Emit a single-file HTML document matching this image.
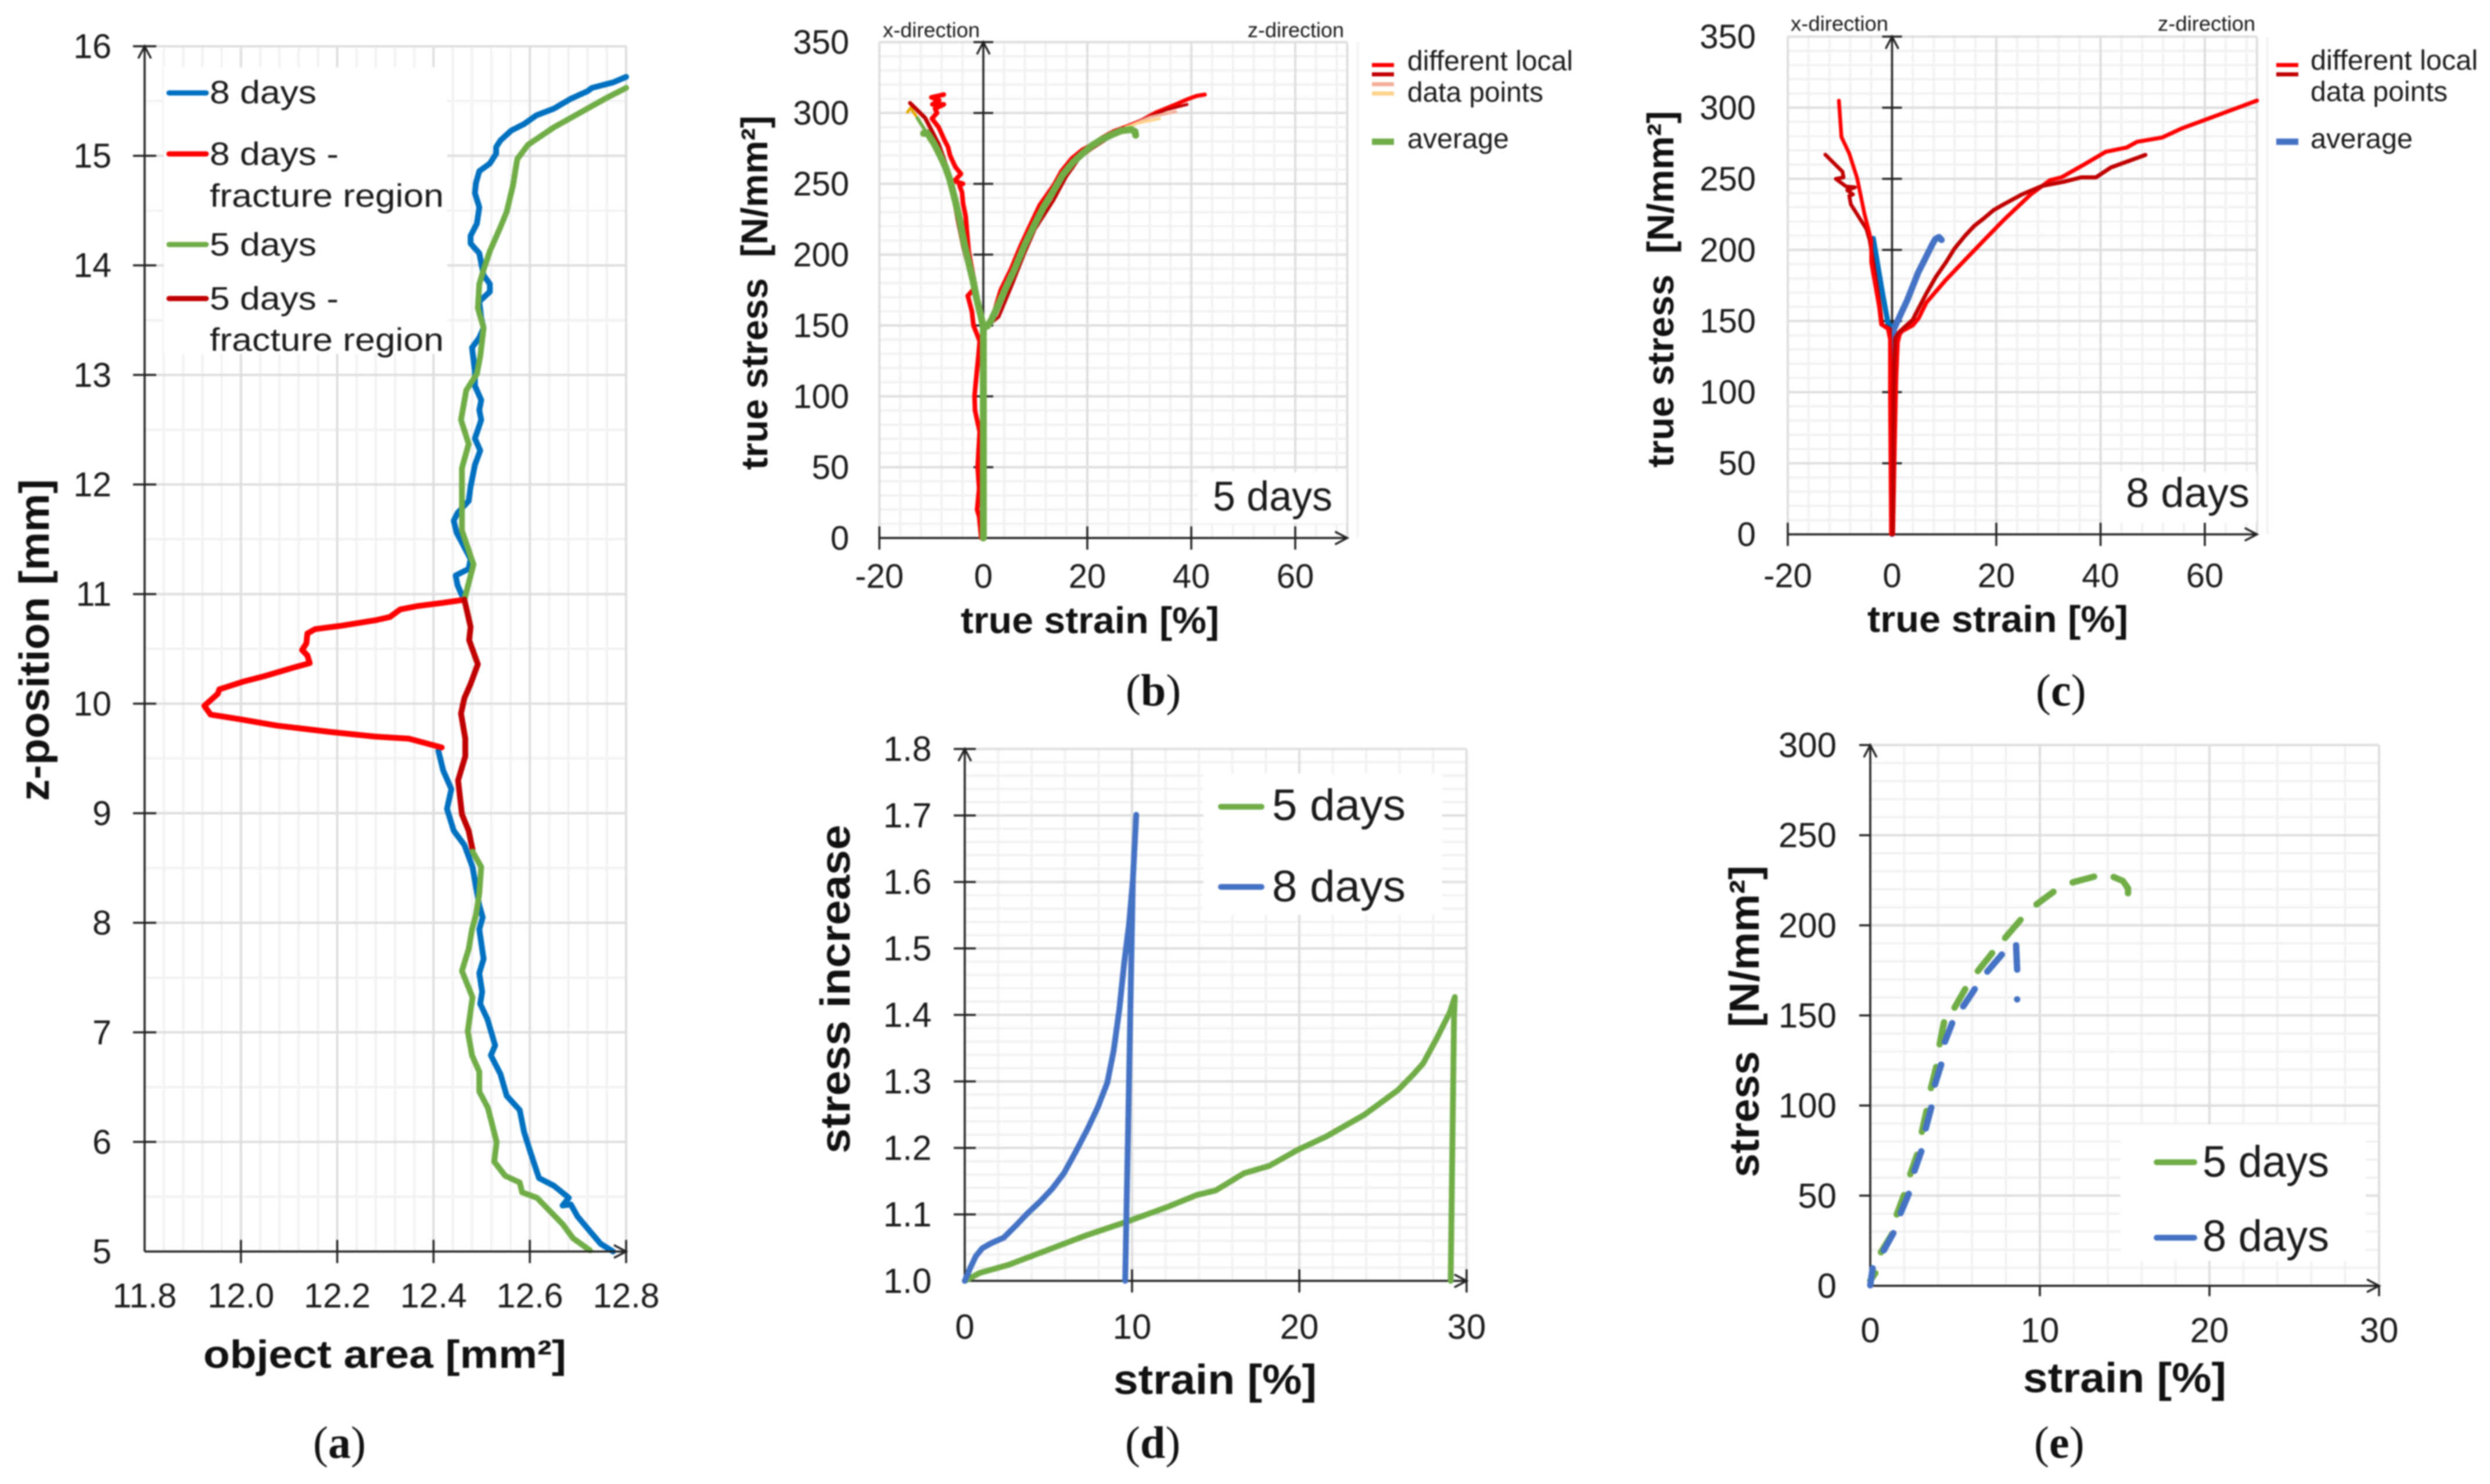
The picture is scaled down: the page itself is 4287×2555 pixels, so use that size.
<!DOCTYPE html>
<html lang="en">
<head>
<meta charset="utf-8">
<title>Stress and strain charts</title>
<style>
html,body{margin:0;padding:0;background:#fff;width:4287px;height:2555px;overflow:hidden}
#figure{position:absolute;left:0;top:0;filter:blur(1.4px)}
text{font-family:"Liberation Sans",sans-serif;fill:#1a1a1a}
.title{font-weight:700;fill:#111}
.cap{font-family:"Liberation Serif",serif;font-size:78px;fill:#111}
.cap .l{font-weight:700}
</style>
</head>
<body>
<svg id="figure" xmlns="http://www.w3.org/2000/svg" width="4287" height="2555" viewBox="0 0 4287 2555">
  <rect x="0" y="0" width="4287" height="2555" fill="#fff"/>
  <g id="panel-a"></g>
  <g id="panel-b"></g>
  <g id="panel-c"></g>
  <g id="panel-d"></g>
  <g id="panel-e"></g>

  <g id="labels">
    <!-- panel a -->
    <rect x="282" y="116" width="488" height="493" fill="#fff"/>
    <line x1="291" y1="160" x2="355" y2="160" stroke="#0070c0" stroke-width="9" stroke-linecap="round"/>
    <line x1="291" y1="265" x2="355" y2="265" stroke="#ff0000" stroke-width="9" stroke-linecap="round"/>
    <line x1="291" y1="421" x2="355" y2="421" stroke="#70ad47" stroke-width="9" stroke-linecap="round"/>
    <line x1="291" y1="514" x2="355" y2="514" stroke="#c00000" stroke-width="9" stroke-linecap="round"/>
    <text x="361" y="178" font-size="56" textLength="184" lengthAdjust="spacingAndGlyphs">8 days</text>
    <text x="361" y="284" font-size="56" textLength="222" lengthAdjust="spacingAndGlyphs">8 days -</text>
    <text x="361" y="356" font-size="56" textLength="403" lengthAdjust="spacingAndGlyphs">fracture region</text>
    <text x="361" y="440" font-size="56" textLength="184" lengthAdjust="spacingAndGlyphs">5 days</text>
    <text x="361" y="533" font-size="56" textLength="222" lengthAdjust="spacingAndGlyphs">5 days -</text>
    <text x="361" y="604" font-size="56" textLength="403" lengthAdjust="spacingAndGlyphs">fracture region</text>
    <text class="title" transform="translate(84,1379) rotate(-90)" font-size="72" textLength="554" lengthAdjust="spacingAndGlyphs">z-position [mm]</text>
    <text class="title" x="350" y="2355" font-size="68" textLength="625" lengthAdjust="spacingAndGlyphs">object area [mm²]</text>
    <text class="cap" x="539" y="2510">(<tspan class="l">a</tspan>)</text>

    <!-- panel b -->
    <text x="1520" y="64" font-size="36" textLength="167" lengthAdjust="spacingAndGlyphs">x-direction</text>
    <text x="2148" y="64" font-size="36" textLength="166" lengthAdjust="spacingAndGlyphs">z-direction</text>
    <line x1="2362" y1="112" x2="2400" y2="112" stroke="#ff0000" stroke-width="7"/>
    <line x1="2362" y1="128" x2="2400" y2="128" stroke="#c00000" stroke-width="7"/>
    <line x1="2362" y1="145" x2="2400" y2="145" stroke="#f4b09a" stroke-width="7"/>
    <line x1="2362" y1="161" x2="2400" y2="161" stroke="#ffd28a" stroke-width="7"/>
    <line x1="2362" y1="244" x2="2400" y2="244" stroke="#70ad47" stroke-width="11"/>
    <text x="2423" y="121" font-size="48" textLength="285" lengthAdjust="spacingAndGlyphs">different local</text>
    <text x="2423" y="175" font-size="48" textLength="234" lengthAdjust="spacingAndGlyphs">data points</text>
    <text x="2423" y="255" font-size="48" textLength="175" lengthAdjust="spacingAndGlyphs">average</text>
    <rect x="2062" y="813" width="256" height="88" fill="#fff"/>
    <text x="2088" y="879" font-size="71" textLength="206" lengthAdjust="spacingAndGlyphs">5 days</text>
    <text class="title" transform="translate(1321,809) rotate(-90)" font-size="64" textLength="610" lengthAdjust="spacingAndGlyphs" xml:space="preserve" style="white-space:pre">true stress  [N/mm²]</text>
    <text class="title" x="1654" y="1090" font-size="64" textLength="445" lengthAdjust="spacingAndGlyphs">true strain [%]</text>
    <text class="cap" x="1938" y="1215">(<tspan class="l">b</tspan>)</text>

    <!-- panel c -->
    <text x="3083" y="53" font-size="36" textLength="168" lengthAdjust="spacingAndGlyphs">x-direction</text>
    <text x="3715" y="53" font-size="36" textLength="168" lengthAdjust="spacingAndGlyphs">z-direction</text>
    <line x1="3919" y1="112" x2="3957" y2="112" stroke="#ff0000" stroke-width="7"/>
    <line x1="3919" y1="128" x2="3957" y2="128" stroke="#c00000" stroke-width="7"/>
    <line x1="3919" y1="244" x2="3957" y2="244" stroke="#4472c4" stroke-width="11"/>
    <text x="3978" y="120" font-size="48" textLength="288" lengthAdjust="spacingAndGlyphs">different local</text>
    <text x="3978" y="174" font-size="48" textLength="236" lengthAdjust="spacingAndGlyphs">data points</text>
    <text x="3978" y="255" font-size="48" textLength="176" lengthAdjust="spacingAndGlyphs">average</text>
    <rect x="3620" y="813" width="265" height="87" fill="#fff"/>
    <text x="3660" y="873" font-size="71" textLength="213" lengthAdjust="spacingAndGlyphs">8 days</text>
    <text class="title" transform="translate(2881,805) rotate(-90)" font-size="64" textLength="614" lengthAdjust="spacingAndGlyphs" xml:space="preserve" style="white-space:pre">true stress  [N/mm²]</text>
    <text class="title" x="3215" y="1088" font-size="64" textLength="449" lengthAdjust="spacingAndGlyphs">true strain [%]</text>
    <text class="cap" x="3505" y="1215">(<tspan class="l">c</tspan>)</text>

    <!-- panel d -->
    <rect x="2072" y="1332" width="411" height="243" fill="#fff"/>
    <line x1="2102" y1="1389" x2="2172" y2="1389" stroke="#70ad47" stroke-width="10" stroke-linecap="round"/>
    <line x1="2102" y1="1527" x2="2172" y2="1527" stroke="#4472c4" stroke-width="10" stroke-linecap="round"/>
    <text x="2190" y="1412" font-size="76" textLength="230" lengthAdjust="spacingAndGlyphs">5 days</text>
    <text x="2190" y="1552" font-size="76" textLength="230" lengthAdjust="spacingAndGlyphs">8 days</text>
    <text class="title" transform="translate(1463,1986) rotate(-90)" font-size="72" textLength="566" lengthAdjust="spacingAndGlyphs">stress increase</text>
    <text class="title" x="1917" y="2400" font-size="72" textLength="350" lengthAdjust="spacingAndGlyphs">strain [%]</text>
    <text class="cap" x="1937" y="2510">(<tspan class="l">d</tspan>)</text>

    <!-- panel e -->
    <rect x="3651" y="1936" width="422" height="235" fill="#fff"/>
    <line x1="3713" y1="2001" x2="3778" y2="2001" stroke="#70ad47" stroke-width="10" stroke-linecap="round"/>
    <line x1="3713" y1="2131" x2="3778" y2="2131" stroke="#4472c4" stroke-width="10" stroke-linecap="round"/>
    <text x="3792" y="2026" font-size="76" textLength="218" lengthAdjust="spacingAndGlyphs">5 days</text>
    <text x="3792" y="2154" font-size="76" textLength="218" lengthAdjust="spacingAndGlyphs">8 days</text>
    <text class="title" transform="translate(3028,2027) rotate(-90)" font-size="72" textLength="537" lengthAdjust="spacingAndGlyphs" xml:space="preserve" style="white-space:pre">stress  [N/mm²]</text>
    <text class="title" x="3483" y="2397" font-size="72" textLength="350" lengthAdjust="spacingAndGlyphs">strain [%]</text>
    <text class="cap" x="3502" y="2510">(<tspan class="l">e</tspan>)</text>
  </g>
</svg>

<script>
/* ---------- panel a data ---------- */
const aXTickLabels = ['11.8','12.0','12.2','12.4','12.6','12.8'];
const aYTickLabels = ['5','6','7','8','9','10','11','12','13','14','15','16'];
const area8DaysUpper = [12.8,12.773,12.729,12.72,12.685,12.65,12.614,12.588,12.561,12.539,12.53,12.53,12.517,12.495,12.488,12.486,12.495,12.49,12.477,12.477,12.495,12.504,12.517,12.517,12.495,12.499,12.504,12.495,12.48,12.486,12.486,12.499,12.495,12.499,12.486,12.497,12.486,12.477,12.473,12.45,12.442,12.448,12.459,12.477,12.473,12.446,12.45,12.459];
const zPos8DaysUpper = [15.72,15.67,15.62,15.59,15.52,15.43,15.37,15.29,15.23,15.14,15.08,15.02,14.93,14.86,14.75,14.66,14.53,14.38,14.27,14.2,14.11,13.91,13.83,13.76,13.67,13.52,13.43,13.34,13.25,13.03,12.9,12.77,12.68,12.59,12.42,12.31,12.18,11.98,11.85,11.74,11.67,11.56,11.47,11.32,11.23,11.17,11.08,10.99];
const area8DaysLower = [12.41,12.42,12.437,12.428,12.442,12.464,12.481,12.488,12.495,12.502,12.495,12.504,12.495,12.501,12.497,12.512,12.528,12.519,12.539,12.552,12.579,12.588,12.601,12.619,12.65,12.681,12.668,12.685,12.699,12.72,12.747,12.773];
const zPos8DaysLower = [9.57,9.39,9.22,9.04,8.84,8.71,8.51,8.33,8.16,8.05,7.94,7.67,7.54,7.37,7.26,7.12,6.88,6.79,6.62,6.42,6.29,6.09,5.91,5.67,5.6,5.49,5.42,5.43,5.32,5.21,5.07,5.0];
const area8DaysFracture = [12.459,12.419,12.366,12.331,12.309,12.278,12.207,12.154,12.138,12.136,12.127,12.138,12.143,12.11,12.048,12.004,11.955,11.952,11.924,11.937,11.995,12.074,12.189,12.278,12.349,12.417];
const zPos8DaysFracture = [10.945,10.92,10.89,10.86,10.79,10.76,10.71,10.68,10.64,10.55,10.49,10.44,10.37,10.33,10.25,10.2,10.13,10.09,9.98,9.9,9.86,9.8,9.74,9.7,9.68,9.6];
const area5DaysUpper = [12.8,12.756,12.703,12.65,12.596,12.574,12.565,12.552,12.539,12.517,12.504,12.495,12.492,12.504,12.497,12.49,12.468,12.457,12.473,12.459,12.459,12.459,12.483,12.464];
const zPos5DaysUpper = [15.62,15.52,15.39,15.26,15.1,14.97,14.73,14.49,14.35,14.13,13.96,13.83,13.61,13.43,13.17,13.01,12.86,12.59,12.37,12.15,11.8,11.58,11.27,10.95];
const area5DaysFracture = [12.464,12.477,12.474,12.492,12.477,12.464,12.457,12.466,12.466,12.451,12.459,12.473,12.481];
const zPos5DaysFracture = [10.95,10.7,10.58,10.36,10.18,10.05,9.91,9.68,9.52,9.3,8.99,8.84,8.67];
const area5DaysLower = [12.481,12.499,12.495,12.488,12.48,12.473,12.459,12.481,12.471,12.48,12.495,12.495,12.513,12.531,12.526,12.549,12.579,12.584,12.615,12.668,12.69,12.725];
const zPos5DaysLower = [8.65,8.51,8.27,8.07,7.94,7.76,7.56,7.32,7.01,6.79,6.64,6.46,6.31,6.0,5.82,5.69,5.63,5.54,5.49,5.25,5.12,5.01];

/* ---------- panels b / c shared ticks ---------- */
const trueStrainTickLabels = ['-20','0','20','40','60'];
const trueStressTickLabels = ['0','50','100','150','200','250','300','350'];

/* ---------- panel b data ---------- */
const bRedLeftStrain = [-0.4,-0.8,-1.2,-0.8,-1.1,-0.7,-1.6,-1.7,-1.4,-0.9,-0.7,-1.9,-2.2,-3,-1.5,-2.2,-2.8,-3.1,-3.4,-3.9,-4.1,-4.6,-3.9,-5.6,-4.3,-5.4,-6.4,-6.8,-7.5,-8.6,-9.9,-8.9,-9.3,-7.6,-9.8,-8.5,-10,-7.6];
const bRedLeftStress = [0,15,20,35,50,75,90,100,112,130,139,150,160,171,177,190,202,214,227,236,244,249,250,252,257,262,270,276,281,290,296,300,303,306,306,309,311,313];
const bDarkLeftStrain = [0,-2.8,-3.9,-4.9,-6.6,-7.6,-8.6,-10,-11.2,-14.1];
const bDarkLeftStress = [149,190,206,224,257,268,278,288,296.5,307];
const bOrangeLeftStrain = [-12.7,-14,-14.6];
const bOrangeLeftStress = [296.5,303.6,300.5];
const bRedRightStrain = [0,1.5,3.3,5.3,7.1,9,10.8,13.5,15,17,19,21,23,25,28,30.6,33,37,39.5,41,42.6];
const bRedRightStress = [148,153,175,190,206,221,235,249,259,268,274,278,283,287,291,295,300,306,310,312,313];
const bDarkRightStrain = [0,3,5.5,7.85,10,13.5,16,18.5,21,24,27,31,35,39.2];
const bDarkRightStress = [147,156,178,200,218,238,255,268,275,282,288,296,302,306];
const bSalmonRightStrain = [27,32,37];
const bSalmonRightStress = [289,297,301];
const bOrangeRightStrain = [27.4,30,33.9];
const bOrangeRightStress = [290,293,296];
const bAvgLeftStrain = [0,0,-0.56,-1.3,-2,-2.8,-3.7,-4.5,-5.4,-6.4,-7.3,-8.4,-9.5,-10.8,-11.5];
const bAvgLeftStress = [0,149,158,169,182,194.3,208.5,224,238,252.5,262,270.6,278.5,286,285.5];
const bAvgTipStrain = [-9.2,-12.7];
const bAvgTipStress = [276,296.5];
const bAvgRightStrain = [0,0.75,1.5,2.2,4.1,6,7.85,9.7,11.6,13.5,15.3,17.2,19.1,20.9,22.8,24.7,26.5,28.4,29.2,29.3];
const bAvgRightStress = [149,149.5,153.5,159,174.7,189.6,206,220,233.6,245,256.4,265,271.4,277,281.3,284.7,287.4,288.4,286.8,284.3];

/* ---------- panel c data ---------- */
const cBlueLeftStrain = [0,-0.2,0.1,-0.8,-1.9,-3.6];
const cBlueLeftStress = [0,80,144.5,149,171,208];
const cAvgRightStrain = [0.1,0.3,2.9,5,7.7,8.3,9,9.5];
const cAvgRightStress = [110,144,164.5,184,203.7,207.6,209,207];
const cDarkLeftStrain = [0.1,-0.1,-0.4,-1.9,-2.3,-3.6,-4.3,-4.9,-7.9,-8.2,-7.5,-8.6,-7.1,-8.8,-10.8,-9.3,-9.5,-12.8];
const cDarkLeftStress = [0,90,144.5,147.6,160,191,207,214.6,232,238,239,242,244,244.6,250,251,255,267];
const cRedLeftStrain = [-0.2,-0.4,-0.4,-0.8,-2.1,-2.5,-4,-4,-5.3,-6.7,-8.2,-9.7,-10.2];
const cRedLeftStress = [0,100,137,144.5,147.6,160,191.3,206.9,225.6,250.5,267.7,279.4,305];
const cDarkRightStrain = [0.1,0.3,0.6,1.3,2.5,4,4.4,6.6,8.4,10.3,12,14,15.8,17.7,19.5,21.4,24.9,28.8,33,36.3,39.1,42,48.6];
const cDarkRightStress = [0,100,138,142,146,151,154,169.5,181,191,201,210,217,222.5,228,232,239,245,248,251,251,258,266.8];
const cRedRightStrain = [0.2,0.5,0.8,1.1,1.5,2,4,5.1,6.6,10.3,14,17.7,21.4,26.6,30.3,32.5,36.8,41,45,47,51.8,55.5,70];
const cRedRightStress = [0,60,110,135,141,143,147,152,163,178.8,193,207,221,239,249,251,260,269,272,276,279,285.3,305];

/* ---------- panel d data ---------- */
const dXTickLabels = ['0','10','20','30'];
const dYTickLabels = ['1.0','1.1','1.2','1.3','1.4','1.5','1.6','1.7','1.8'];
const d5DaysStrain = [0,0.9,2.6,4.6,7.2,9.8,12.1,13.85,15,16.7,18.2,19.9,21.6,23.9,25.9,26.8,27.4,28.2,29,29.3,29.25,29.05];
const d5DaysIncrease = [1,1.012,1.024,1.043,1.068,1.09,1.111,1.129,1.136,1.162,1.173,1.197,1.217,1.25,1.287,1.31,1.327,1.364,1.404,1.427,1.4,1.0];
const d8DaysStrain = [0,0.32,0.66,1.04,1.61,2.33,3.05,3.77,4.49,5.21,5.93,6.65,7.37,7.95,8.52,8.9,9.24,9.53,9.82,10.05,10.25,10.05,9.59];
const d8DaysIncrease = [1,1.019,1.037,1.049,1.057,1.065,1.083,1.102,1.119,1.138,1.162,1.195,1.23,1.261,1.298,1.346,1.408,1.478,1.536,1.602,1.701,1.602,1.0];

/* ---------- panel e data (null separates dashes) ---------- */
const eXTickLabels = ['0','10','20','30'];
const eYTickLabels = ['0','50','100','150','200','250','300'];
const e5DaysStrain = [0,0.3,null,0.63,1.28,null,1.56,1.99,null,2.36,2.76,null,3.04,3.32,null,3.58,3.89,null,4.09,4.35,null,4.97,5.6,null,6.34,7.19,null,7.95,8.86,null,9.8,10.8,null,11.93,13.2,null,14.35,14.9,15.2,15.2];
const e5DaysStress = [3,7,null,18.6,28.6,null,39.5,50.3,null,61.9,72.7,null,85.4,97,null,109.7,121.4,null,134,146.2,null,154.3,164.6,null,174.6,184.6,null,193,203,null,211.6,218.6,null,223.8,227,null,226.8,224.6,220.5,217.8];
const e8DaysStrain = [0,0.14,null,0.8,1.36,null,1.79,2.27,null,2.61,3.01,null,3.27,3.6,null,3.81,4.18,null,4.4,4.83,null,5.48,6.16,null,6.9,7.76,null,8.6,8.66,null,8.66,8.66];
const e8DaysStress = [0.3,9.7,null,19.7,29.2,null,40.3,51,null,63.8,74.6,null,87.3,98.9,null,111.6,122.7,null,135.4,145.7,null,155,164.6,null,174.3,183.8,null,188.9,175.4,null,158.9,158.9];

/* ---------- helpers ---------- */
const SVGNS = 'http://www.w3.org/2000/svg';
function scale(d0, d1, r0, r1) {
  const f = v => r0 + (v - d0) * (r1 - r0) / (d1 - d0);
  return f;
}
function mk(parent, tag, attrs, name) {
  const el = document.createElementNS(SVGNS, tag);
  for (const k in attrs) el.setAttribute(k, attrs[k]);
  
  
  parent.appendChild(el);
  return el;
}
function seg(parent, x1, y1, x2, y2, color, w, name) {
  return mk(parent, 'line', {x1, y1, x2, y2, stroke: color, 'stroke-width': w}, name);
}
function grid(parent, p) {
  const g = mk(parent, 'g', {}, 'gridlines');
  const [L, R] = [p.x(p.xMin), p.x(p.xMax)];
  const [B, T] = [p.y(p.yMin), p.y(p.yMax)];
  const xCount = Math.round((p.xMax - p.xMin) / p.xMinor);
  for (let i = 0; i <= xCount; i++) {
    const v = p.xMin + i * p.xMinor;
    seg(g, p.x(v), T, p.x(v), B, '#f2f2f2', 4, 'minor-gridline-x');
  }
  const yCount = Math.round((p.yMax - p.yMin) / p.yMinor);
  for (let i = 0; i <= yCount; i++) {
    const v = p.yMin + i * p.yMinor;
    seg(g, L, p.y(v), R, p.y(v), '#f2f2f2', 4, 'minor-gridline-y');
  }
  p.xLabels.map(Number).concat([p.xMax]).forEach(v => seg(g, p.x(v), T, p.x(v), B, '#dedede', 4, 'major-gridline-x'));
  p.yLabels.map(Number).forEach(v => seg(g, L, p.y(v), R, p.y(v), '#dedede', 4, 'major-gridline-y'));
}
function axes(parent, p) {
  const g = mk(parent, 'g', {}, 'axes');
  const ink = '#222';
  const ax0 = p.x(p.yAxisAt), ay0 = p.y(p.yMin);
  const R = p.x(p.xMax), T = p.y(p.yMax), L = p.x(p.xMin);
  seg(g, L, ay0, R, ay0, ink, 3.5, 'x-axis-line');
  seg(g, ax0, ay0, ax0, T, ink, 3.5, 'y-axis-line');
  mk(g, 'polyline', {points: `${ax0-11},${T+21} ${ax0},${T} ${ax0+11},${T+21}`, fill: 'none', stroke: ink, 'stroke-width': 3.5}, 'y-axis-arrow');
  mk(g, 'polyline', {points: `${R-21},${ay0-11} ${R},${ay0} ${R-21},${ay0+11}`, fill: 'none', stroke: ink, 'stroke-width': 3.5}, 'x-axis-arrow');
  p.xLabels.forEach(lbl => {
    const v = Number(lbl);
    if (v !== p.yAxisAt) seg(g, p.x(v), ay0 + p.xTickDown, p.x(v), ay0 - p.xTickUp, ink, 3.5, 'x-tick');
  });
  p.yLabels.forEach(lbl => {
    const v = Number(lbl);
    if (v !== p.yMin) seg(g, ax0 - p.yTickLeft, p.y(v), ax0 + p.yTickRight, p.y(v), ink, 3.5, 'y-tick');
  });
}
function tickText(parent, p) {
  p.xLabels.forEach(lbl => {
    const el = mk(parent, 'text', {x: p.x(Number(lbl)), y: p.xLabelY, 'font-size': p.fs, 'text-anchor': 'middle'}, 'x-tick-label');
    el.textContent = lbl;
  });
  p.yLabels.forEach(lbl => {
    const el = mk(parent, 'text', {x: p.yLabelX, y: p.y(Number(lbl)) + p.fs * 0.345, 'font-size': p.fs, 'text-anchor': 'end'}, 'y-tick-label');
    el.textContent = lbl;
  });
}
function series(parent, p, xs, ys, color, w, name) {
  let d = '', pen = false;
  xs.forEach((xv, i) => {
    if (xv === null || ys[i] === null) { pen = false; return; }
    d += (pen ? 'L' : 'M') + p.x(xv).toFixed(1) + ' ' + p.y(ys[i]).toFixed(1);
    pen = true;
  });
  return mk(parent, 'path', {d, fill: 'none', stroke: color, 'stroke-width': w, 'stroke-linejoin': 'round', 'stroke-linecap': 'round'}, name);
}

const RED = '#ff0000', DARK = '#c00000', GREEN = '#70ad47', BLUE = '#4472c4', BLUE2 = '#0070c0';

/* ---------- panel a ---------- */
const pa = {
  x: scale(11.8, 12.8, 249, 1078), y: scale(5, 16, 2154.7, 79.6),
  xMin: 11.8, xMax: 12.8, yMin: 5, yMax: 16, xMinor: 0.04, yMinor: 0.5, yAxisAt: 11.8,
  xLabels: aXTickLabels, yLabels: aYTickLabels,
  xTickDown: 20, xTickUp: 20, yTickLeft: 20, yTickRight: 20,
  xLabelY: 2251, yLabelX: 192, fs: 59
};
const ga = document.getElementById('panel-a');
grid(ga, pa); tickText(ga, pa);
series(ga, pa, area8DaysUpper, zPos8DaysUpper, BLUE2, 10, 'series-8-days-upper');
series(ga, pa, area8DaysLower, zPos8DaysLower, BLUE2, 10, 'series-8-days-lower');
series(ga, pa, area8DaysFracture, zPos8DaysFracture, RED, 10, 'series-8-days-fracture');
series(ga, pa, area5DaysUpper, zPos5DaysUpper, GREEN, 10, 'series-5-days-upper');
series(ga, pa, area5DaysFracture, zPos5DaysFracture, DARK, 10, 'series-5-days-fracture');
series(ga, pa, area5DaysLower, zPos5DaysLower, GREEN, 10, 'series-5-days-lower');
axes(ga, pa);

/* ---------- panel b ---------- */
const pb = {
  x: scale(-20, 60, 1514, 2230), y: scale(0, 350, 926.3, 72.5),
  xMin: -20, xMax: 70, yMin: 0, yMax: 350, xMinor: 4, yMinor: 10, yAxisAt: 0,
  xLabels: trueStrainTickLabels, yLabels: trueStressTickLabels,
  xTickDown: 20, xTickUp: 20, yTickLeft: 17, yTickRight: 17,
  xLabelY: 1012, yLabelX: 1462, fs: 58
};
const gb = document.getElementById('panel-b');
grid(gb, pb); tickText(gb, pb); axes(gb, pb);
series(gb, pb, bRedLeftStrain, bRedLeftStress, RED, 8, 'series-b-red-x-direction');
series(gb, pb, bOrangeLeftStrain, bOrangeLeftStress, '#e6a800', 5, 'series-b-orange-x-direction');
series(gb, pb, bDarkLeftStrain, bDarkLeftStress, DARK, 7, 'series-b-dark-red-x-direction');
series(gb, pb, bRedRightStrain, bRedRightStress, RED, 7, 'series-b-red-z-direction');
series(gb, pb, bDarkRightStrain, bDarkRightStress, DARK, 5, 'series-b-dark-red-z-direction');
series(gb, pb, bSalmonRightStrain, bSalmonRightStress, '#f4b09a', 5, 'series-b-salmon-z-direction');
series(gb, pb, bOrangeRightStrain, bOrangeRightStress, '#ffd28a', 5, 'series-b-orange-z-direction');
series(gb, pb, bAvgTipStrain, bAvgTipStress, GREEN, 6, 'series-b-average-x-tip');
series(gb, pb, bAvgLeftStrain, bAvgLeftStress, GREEN, 12, 'series-b-average-x-direction');
series(gb, pb, bAvgRightStrain, bAvgRightStress, GREEN, 12, 'series-b-average-z-direction');

/* ---------- panel c ---------- */
const pc = {
  x: scale(-20, 60, 3078, 3796), y: scale(0, 350, 920, 63),
  xMin: -20, xMax: 70, yMin: 0, yMax: 350, xMinor: 4, yMinor: 10, yAxisAt: 0,
  xLabels: trueStrainTickLabels, yLabels: trueStressTickLabels,
  xTickDown: 20, xTickUp: 20, yTickLeft: 17, yTickRight: 17,
  xLabelY: 1011, yLabelX: 3023, fs: 58
};
const gc = document.getElementById('panel-c');
grid(gc, pc); tickText(gc, pc); axes(gc, pc);
series(gc, pc, cBlueLeftStrain, cBlueLeftStress, BLUE2, 9, 'series-c-average-x-direction');
series(gc, pc, cAvgRightStrain, cAvgRightStress, BLUE, 11, 'series-c-average-z-direction');
series(gc, pc, cDarkLeftStrain, cDarkLeftStress, DARK, 6.5, 'series-c-dark-red-x-direction');
series(gc, pc, cRedLeftStrain, cRedLeftStress, RED, 6.5, 'series-c-red-x-direction');
series(gc, pc, cRedRightStrain, cRedRightStress, RED, 7, 'series-c-red-z-direction');
series(gc, pc, cDarkRightStrain, cDarkRightStress, DARK, 7, 'series-c-dark-red-z-direction');

/* ---------- panel d ---------- */
const pd = {
  x: scale(0, 30, 1661, 2525), y: scale(1, 1.8, 2205.3, 1289.5),
  xMin: 0, xMax: 30, yMin: 1, yMax: 1.8, xMinor: 2, yMinor: 0.02, yAxisAt: 0,
  xLabels: dXTickLabels, yLabels: dYTickLabels,
  xTickDown: 20, xTickUp: 20, yTickLeft: 19, yTickRight: 19,
  xLabelY: 2305, yLabelX: 1604, fs: 60
};
const gd = document.getElementById('panel-d');
grid(gd, pd); tickText(gd, pd); axes(gd, pd);
series(gd, pd, d5DaysStrain, d5DaysIncrease, GREEN, 10, 'series-d-5-days');
series(gd, pd, d8DaysStrain, d8DaysIncrease, BLUE, 10, 'series-d-8-days');

/* ---------- panel e ---------- */
const pe = {
  x: scale(0, 30, 3220, 4096), y: scale(0, 300, 2213.7, 1282.8),
  xMin: 0, xMax: 30, yMin: 0, yMax: 300, xMinor: 2, yMinor: 10, yAxisAt: 0,
  xLabels: eXTickLabels, yLabels: eYTickLabels,
  xTickDown: 18, xTickUp: 0, yTickLeft: 19, yTickRight: 0,
  xLabelY: 2311, yLabelX: 3162, fs: 60
};
const ge = document.getElementById('panel-e');
grid(ge, pe); tickText(ge, pe); axes(ge, pe);
series(ge, pe, e5DaysStrain, e5DaysStress, GREEN, 11, 'series-e-5-days');
series(ge, pe, e8DaysStrain, e8DaysStress, BLUE, 11, 'series-e-8-days');
</script>
</body>
</html>
